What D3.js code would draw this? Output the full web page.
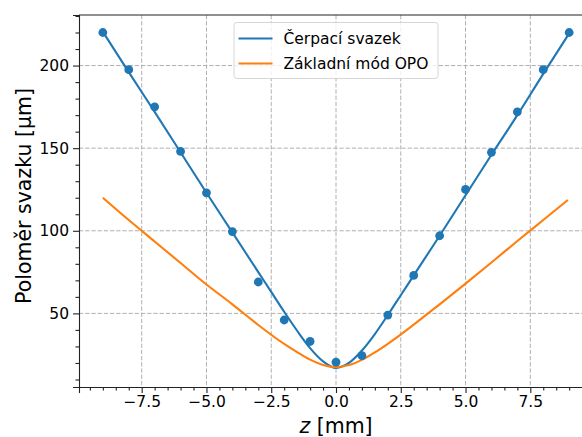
<!DOCTYPE html>
<html lang="cs">
<head>
<meta charset="UTF-8">
<title>Poloměr svazku</title>
<script src="https://d3js.org/d3.v7.min.js"></script>
<style>
  body { margin: 0; background: #fff; }
  text { font-family: "DejaVu Sans", sans-serif; fill: #000; }
</style>
</head>
<body>
<svg width="582" height="437" class="chart"></svg>
<script>
    // measured points (pump beam)
    var zMeas = [-9, -8, -7, -6, -5, -4, -3, -2, -1, 0, 1, 2, 3, 4, 5, 6, 7, 8, 9];
    var wMeas = [220, 197.5, 175, 148, 123, 99.5, 69, 46, 33, 20.5, 24.5, 49, 73, 97, 125, 147.5, 172, 197.5, 220];

    // fitted pump beam curve
    var zPump = [-9, -8, -7, -6, -5, -4, -3, -2.5, -2, -1.5, -1, -0.5, 0, 0.5, 1, 1.5, 2, 2.5, 3, 4, 5, 6, 7, 8, 9];
    var wPump = [220.5, 196, 172, 147.5, 123, 99, 75, 63, 51, 39.5, 29, 21, 17, 20, 27.5, 37.5, 49, 61, 73, 97, 121.5, 146, 170, 195, 219.5];

    // OPO fundamental mode
    var zOpo = [-9, -8, -7, -6, -5, -4, -3, -2, -1.5, -1, -0.5, 0, 0.5, 1, 1.5, 2, 3, 4, 5, 6, 7, 8, 8.95];
    var wOpo = [120, 106.5, 93.5, 80.5, 67.5, 55.5, 43, 31.5, 26.5, 22, 18.8, 17.5, 18.7, 21.9, 26.4, 31.6, 43.2, 55.5, 68, 80.8, 93.8, 106.5, 118.6];

    var xTicks = [-7.5, -5.0, -2.5, 0.0, 2.5, 5.0, 7.5];
    var yTicks = [50, 100, 150, 200];
    var legendLabels = ["Čerpací svazek", "Základní mód OPO"];
    var colors = ["#1f77b4", "#ff7f0e"];

    var svg = d3.select("svg.chart");
    var pLeft = 79, pRight = 593, pTop = 15, pBottom = 387;

    var x = d3.scaleLinear().domain([-9.92, 9.92]).range([pLeft, pRight]);
    var y = d3.scaleLinear().domain([5.45, 230.6]).range([pBottom, pTop]);

    svg.append("clipPath").attr("id", "plotclip")
        .append("rect")
        .attr("x", pLeft).attr("y", pTop)
        .attr("width", pRight - pLeft).attr("height", pBottom - pTop);

    // grid
    var grid = svg.append("g");
    grid.selectAll(".gx")
        .data(xTicks)
        .enter().append("line")
        .attr("x1", function (d) { return x(d); })
        .attr("x2", function (d) { return x(d); })
        .attr("y1", pTop).attr("y2", pBottom)
        .attr("stroke", "#b0b0b0").attr("stroke-width", 1)
        .attr("stroke-dasharray", "4.3,1.9");
    grid.selectAll(".gy")
        .data(yTicks)
        .enter().append("line")
        .attr("y1", function (d) { return y(d); })
        .attr("y2", function (d) { return y(d); })
        .attr("x1", pLeft).attr("x2", pRight)
        .attr("stroke", "#b0b0b0").attr("stroke-width", 1)
        .attr("stroke-dasharray", "4.3,1.9");

    var plot = svg.append("g").attr("clip-path", "url(#plotclip)");

    var line = d3.line()
        .x(function (d) { return x(d[0]); })
        .y(function (d) { return y(d[1]); })
        .curve(d3.curveMonotoneX);

    plot.append("path")
        .datum(d3.zip(zPump, wPump))
        .attr("d", line)
        .attr("fill", "none")
        .attr("stroke", colors[0])
        .attr("stroke-width", 2.1);

    plot.append("path")
        .datum(d3.zip(zOpo, wOpo))
        .attr("d", line)
        .attr("fill", "none")
        .attr("stroke", colors[1])
        .attr("stroke-width", 2.1);

    plot.selectAll(".dot")
        .data(d3.zip(zMeas, wMeas))
        .enter().append("circle")
        .attr("class", "dot")
        .attr("cx", function (d) { return x(d[0]); })
        .attr("cy", function (d) { return y(d[1]); })
        .attr("r", 4.4)
        .attr("fill", colors[0]);

    // axes
    var fmtX = function (d) { return d3.format(".1f")(d).replace("-", "\u2212"); };
    svg.append("g")
        .attr("transform", "translate(0," + pBottom + ")")
        .call(d3.axisBottom(x).tickValues(xTicks).tickFormat(fmtX).tickSizeOuter(0).tickSize(6).tickPadding(3));
    svg.append("g")
        .attr("transform", "translate(0," + pBottom + ")")
        .call(d3.axisBottom(x).tickValues(d3.range(-9.5, 10, 0.5).filter(function (v) { return xTicks.indexOf(v) < 0; }))
            .tickFormat("").tickSizeOuter(0).tickSize(3.5))
        .select(".domain").remove();

    svg.append("g")
        .attr("transform", "translate(" + pLeft + ",0)")
        .call(d3.axisLeft(y).tickValues(yTicks).tickSizeOuter(0).tickSize(6).tickPadding(4));
    svg.append("g")
        .attr("transform", "translate(" + pLeft + ",0)")
        .call(d3.axisLeft(y).tickValues(d3.range(10, 231, 10).filter(function (v) { return yTicks.indexOf(v) < 0; }))
            .tickFormat("").tickSizeOuter(0).tickSize(3.5))
        .select(".domain").remove();

    svg.selectAll(".tick text").attr("font-size", "15.5px").attr("font-family", "DejaVu Sans");
    svg.selectAll(".tick line").attr("stroke", "#222").attr("stroke-width", 1.1);
    svg.selectAll(".domain").attr("stroke", "#222").attr("stroke-width", 1.1);

    // top and right spines
    svg.append("line")
        .attr("x1", pLeft).attr("x2", pRight)
        .attr("y1", pTop).attr("y2", pTop)
        .attr("stroke", "#222").attr("stroke-width", 1.1);
    svg.append("line")
        .attr("x1", pRight).attr("x2", pRight)
        .attr("y1", pTop).attr("y2", pBottom)
        .attr("stroke", "#222").attr("stroke-width", 1.1);

    // axis labels
    var xl = svg.append("text")
        .attr("x", 336)
        .attr("y", 433)
        .attr("text-anchor", "middle")
        .attr("font-size", "20.5px");
    xl.append("tspan").attr("font-style", "italic").text("z");
    xl.append("tspan").text(" [mm]");

    svg.append("text")
        .attr("transform", "translate(31," + 196 + ") rotate(-90)")
        .attr("text-anchor", "middle")
        .attr("font-size", "20.5px")
        .text("Poloměr svazku [μm]");

    // legend
    var lg = svg.append("g");
    lg.append("rect")
        .attr("x", 234).attr("y", 22.5)
        .attr("width", 204).attr("height", 56)
        .attr("rx", 3).attr("ry", 3)
        .attr("fill", "#fff").attr("fill-opacity", 0.8)
        .attr("stroke", "#d6d6d6").attr("stroke-width", 1);
    legendLabels.forEach(function (lab, i) {
        var yy = 38.5 + i * 25;
        lg.append("line")
            .attr("x1", 238.5).attr("x2", 272.5)
            .attr("y1", yy).attr("y2", yy)
            .attr("stroke", colors[i]).attr("stroke-width", 2.1);
        lg.append("text")
            .attr("x", 283.5).attr("y", yy + 5.6)
            .attr("font-size", "15.5px")
            .text(lab);
    });
</script>
</body>
</html>
